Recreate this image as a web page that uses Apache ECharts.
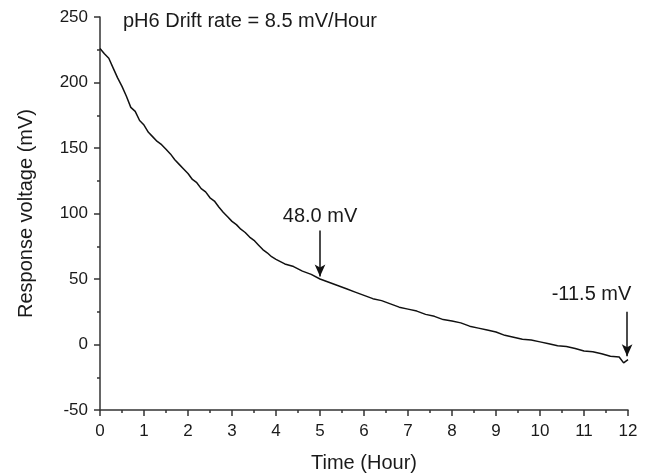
<!DOCTYPE html>
<html>
<head>
<meta charset="utf-8">
<script src="https://cdn.jsdelivr.net/npm/echarts@6/dist/echarts.min.js"></script>
<style>
  html, body { margin: 0; padding: 0; background: #fff; }
  #chart { width: 652px; height: 473px; }
</style>
</head>
<body>
<div id="chart"></div>
<script>
// time (hour) and response voltage (mV)
const timeHours = [
  0, 0.1, 0.2, 0.3, 0.4, 0.5, 0.6, 0.7, 0.8, 0.9,
  1.0, 1.1, 1.2, 1.3, 1.4, 1.5, 1.6, 1.7, 1.8, 1.9,
  2.0, 2.1, 2.2, 2.3, 2.4, 2.5, 2.6, 2.7, 2.8, 2.9,
  3.0, 3.1, 3.2, 3.3, 3.4, 3.5, 3.6, 3.7, 3.8, 3.9,
  4.0, 4.2, 4.4, 4.6, 4.8, 5.0, 5.2, 5.4, 5.6, 5.8,
  6.0, 6.2, 6.4, 6.6, 6.8, 7.0, 7.2, 7.4, 7.6, 7.8,
  8.0, 8.2, 8.4, 8.6, 8.8, 9.0, 9.2, 9.4, 9.6, 9.8,
  10.0, 10.2, 10.4, 10.6, 10.8, 11.0, 11.2, 11.4, 11.6, 11.8,
  11.9, 12.0
];
const voltage = [
  226, 222, 218.5, 211, 203.5, 197, 189.5, 181, 178, 171,
  167.5, 162, 158.5, 155, 152.5, 149, 145.5, 141, 137.5, 134,
  130.5, 126, 123.5, 119, 116.5, 112, 109.5, 105, 101, 97.5,
  94, 91.5, 88, 85.5, 82, 79.5, 76, 72.5, 70, 67,
  65, 61.5, 59.5, 56, 53.5, 50, 47.5, 45, 42.5, 40,
  37.5, 35, 33.5, 31, 28.5, 27, 25.5, 23, 21.5, 19,
  18, 16.5, 14, 12.5, 11, 9.5, 7, 5.5, 4, 3.5,
  2, 0.5, -1, -1.5, -3, -5, -5.5, -7, -9, -9.5,
  -14, -11.5
];
const annotations = ['48.0 mV', '-11.5 mV'];
const titleText = 'pH6 Drift rate = 8.5 mV/Hour';

const chart = echarts.init(document.getElementById('chart'));
const axisColor = '#333';
const textColor = '#1a1a1a';
const fontFamily = 'Liberation Sans, Arial, sans-serif';

chart.setOption({
  animation: false,
  grid: { left: 100, right: 24, top: 17, bottom: 63, containLabel: false, outerBoundsMode: 'none' },
  graphic: [{
    type: 'text',
    left: 123,
    top: 11,
    style: { text: titleText, font: '20px ' + fontFamily, fill: textColor }
  }],
  xAxis: {
    type: 'value',
    min: 0, max: 12, interval: 1,
    name: 'Time (Hour)',
    nameLocation: 'middle',
    nameGap: 43,
    nameTextStyle: { fontSize: 20, color: textColor, fontFamily: fontFamily },
    axisLine: { show: true, onZero: false, lineStyle: { color: axisColor, width: 1.5 } },
    axisTick: { show: true, length: 6, lineStyle: { color: axisColor, width: 1.5 } },
    minorTick: { show: true, splitNumber: 2, length: 3, lineStyle: { color: axisColor, width: 1.5 } },
    axisLabel: { fontSize: 17, color: textColor, fontFamily: fontFamily, margin: 13 },
    splitLine: { show: false }
  },
  yAxis: {
    type: 'value',
    min: -50, max: 250, interval: 50,
    name: 'Response voltage (mV)',
    nameLocation: 'middle',
    nameGap: 64,
    nameTextStyle: { fontSize: 20, color: textColor, fontFamily: fontFamily },
    axisLine: { show: true, onZero: false, lineStyle: { color: axisColor, width: 1.5 } },
    axisTick: { show: true, length: 6, lineStyle: { color: axisColor, width: 1.5 } },
    minorTick: { show: true, splitNumber: 2, length: 3, lineStyle: { color: axisColor, width: 1.5 } },
    axisLabel: { fontSize: 17, color: textColor, fontFamily: fontFamily, margin: 12 },
    splitLine: { show: false }
  },
  series: [{
    type: 'line',
    data: timeHours.map((t, i) => [t, voltage[i]]),
    showSymbol: false,
    lineStyle: { color: '#111', width: 1.5 },
    markLine: {
      silent: true,
      symbol: ['none', 'arrow'],
      symbolSize: [8, 12],
      label: { show: false },
      lineStyle: { color: '#111', width: 1.5, type: 'solid' },
      data: [
        [{ coord: [5, 87] }, { coord: [5, 52] }],
        [{ coord: [11.98, 25] }, { coord: [11.98, -9] }]
      ]
    },
    markPoint: {
      silent: true,
      symbol: 'circle',
      symbolSize: 0,
      label: {
        show: true,
        color: textColor,
        fontSize: 20,
        fontFamily: fontFamily,
        formatter: p => p.name
      },
      data: [
        { name: annotations[0], coord: [5, 98] },
        { name: annotations[1], coord: [11.17, 38] }
      ]
    }
  }]
});
</script>
</body>
</html>
